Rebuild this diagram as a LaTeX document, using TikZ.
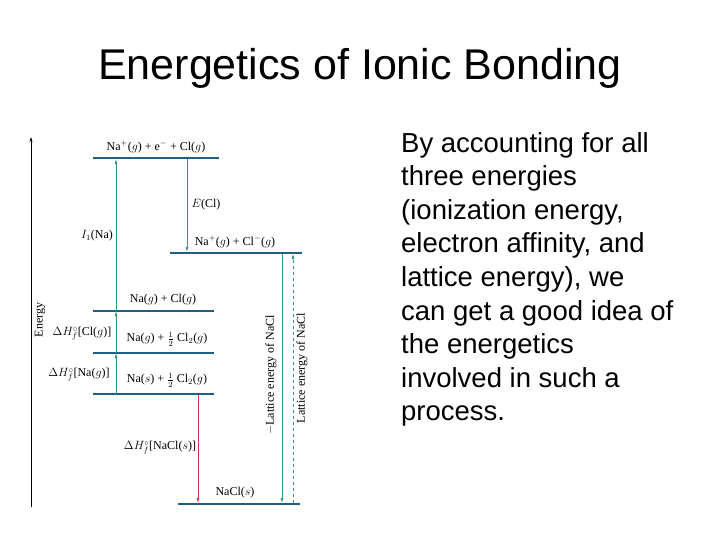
\documentclass[tikz,border=0pt]{standalone}
\usepackage{fontspec}
\setmainfont{Liberation Serif}
\newfontfamily\arial{Liberation Sans}
\begin{document}
\begin{tikzpicture}[x=1pt,y=-1pt,
 lvl/.style={draw=lvlc,line width=1.6pt},
 gar/.style={draw=grn,line width=0.7pt,-{Latex[length=5pt,width=3pt]}},
 lab/.style={font=\fontsize{12}{14}\selectfont,inner sep=1pt}]
\usetikzlibrary{arrows.meta}
\definecolor{lvlc}{HTML}{1F5F80}\definecolor{grn}{HTML}{2A9A7A}\definecolor{rd}{HTML}{D0304A}
\useasboundingbox (0,0) rectangle (720,540);
\node[font=\arial\fontsize{43}{50}\selectfont] (title) at (360,68) {Energetics of Ionic Bonding};
\node[font=\arial\fontsize{27.5}{33.6}\selectfont,anchor=north west,align=left,inner sep=0] (txt) at (401,132)
 {By accounting for all\\three energies\\(ionization energy,\\electron affinity, and\\lattice energy), we\\can get a good idea of\\the energetics\\involved in such a\\process.};
% axis
\coordinate (ab) at (31,507); \coordinate (at) at (31,137);
\draw[line width=0.6pt,-{Stealth[length=5pt,width=3pt]}] (ab) -- (at);
\node[lab,rotate=90] (en) at (40,320) {Energy};
% levels
\draw[lvl] (93,158) -- (219,158);
\draw[lvl] (170,253) -- (302,253);
\draw[lvl] (93,311) -- (214,311);
\draw[lvl] (93,353) -- (214,353);
\draw[lvl] (93,394) -- (214,394);
\draw[lvl] (178,504) -- (300,504);
\node[lab] (t1) at (156,147) {Na$^+$($g$) + e$^-$ + Cl($g$)};
\node[lab] (t2) at (235,242) {Na$^+$($g$) + Cl$^-$($g$)};
\node[lab] (t3) at (163,300) {Na($g$) + Cl($g$)};
\node[lab] (t4) at (167,339) {Na($g$) + $\frac12$ Cl$_2$($g$)};
\node[lab] (t5) at (167,380) {Na($s$) + $\frac12$ Cl$_2$($g$)};
\node[lab] (t6) at (235,493) {NaCl($s$)};
% arrows
\coordinate (g0) at (116,394); \coordinate (g1) at (116,353); \coordinate (g2) at (116,311); \coordinate (g3) at (116,159);
\draw[gar] (g0) -- (g1); \draw[gar] (g1) -- (g2); \draw[gar] (g2) -- (g3);
\coordinate (e0) at (187,159); \coordinate (e1) at (187,252);
\draw[gar] (e0) -- (e1);
\coordinate (r0) at (198,395); \coordinate (r1) at (198,503);
\draw[gar,draw=rd] (r0) -- (r1);
\coordinate (k0) at (282,254); \coordinate (k1) at (282,503);
\draw[gar] (k0) -- (k1);
\coordinate (d0) at (293,503); \coordinate (d1) at (293,254);
\draw[gar,dashed,line width=0.5pt] (d0) -- (d1);
\node[lab] (i1) at (97,236) {$I_1$(Na)};
\node[lab] (ec) at (206,205) {$E$(Cl)};
\node[lab] (h1) at (82,334) {$\Delta H_f^\circ$[Cl($g$)]};
\node[lab] (h2) at (79,375) {$\Delta H_f^\circ$[Na($g$)]};
\node[lab] (h3) at (160,448) {$\Delta H_f^\circ$[NaCl($s$)]};
\node[lab,rotate=90] (le1) at (271,375) {$-$Lattice energy of NaCl};
\node[lab,rotate=90] (le2) at (302,368) {Lattice energy of NaCl};
\end{tikzpicture}
\end{document}
